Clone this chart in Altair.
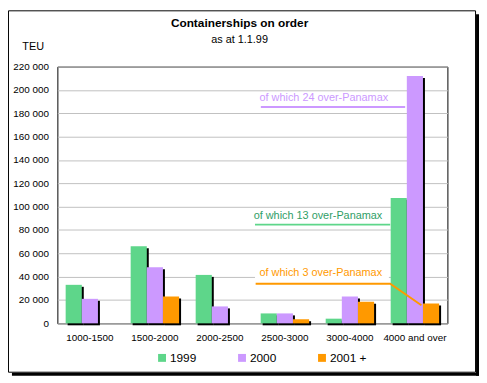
import altair as alt
import pandas as pd

# ---- data ----
categories = ['1000-1500', '1500-2000', '2000-2500', '2500-3000', '3000-4000', '4000 and over']
years = ['1999', '2000', '2001 +']
v1999 = [33000, 66000, 41500, 8500, 4000, 107500]
v2000 = [21000, 48000, 14500, 8500, 23000, 212000]
v2001 = [0, 23000, 0, 3500, 18500, 17000]
colors = ['#5ed68a', '#cc99ff', '#ff9900']
y_ticks = [0, 20000, 40000, 60000, 80000, 100000, 120000, 140000, 160000, 180000, 200000, 220000]

# annotations (x in category units 0..6, y in TEU)
ann_text = ['of which 24 over-Panamax', 'of which 13 over-Panamax', 'of which 3 over-Panamax']
ann_text_color = ['#cc99ff', '#2f9e66', '#ff9900']
ann_text_x = [3.11, 3.02, 3.11]
ann_text_y = [190400, 89700, 40600]

line_id = ['p', 'p', 'g', 'g', 'o', 'o', 'o']
line_order = [0, 1, 0, 1, 0, 1, 2]
line_x = [3.13, 5.35, 3.04, 5.12, 3.05, 5.12, 5.6]
line_y = [185300, 185300, 84600, 84600, 33900, 33900, 15500]
line_color = ['#cc99ff', '#cc99ff', '#5ed68a', '#5ed68a', '#ff9900', '#ff9900', '#ff9900']

box_x = [3.04]
box_x2 = [5.10]
box_y = [37200]
box_y2 = [49800]

FONT = 'Liberation Sans'

rows = []
for i, c in enumerate(categories):
    for yr, vals in zip(years, [v1999, v2000, v2001]):
        rows.append({'cat': c, 'year': yr, 'teu': vals[i]})
df = pd.DataFrame(rows)

xscale = alt.Scale(paddingInner=0.255, paddingOuter=0.1275)
yscale = alt.Scale(domain=[0, 220000], nice=False)
xaxis = alt.Axis(title=None, labelAngle=0, labelPadding=9, grid=False, bandPosition=0.5)
yaxis = alt.Axis(values=y_ticks, title='TEU', titleAngle=0,
                 titleX=-25, titleY=-17, titleAlign='center', titleBaseline='alphabetic',
                 titleFontWeight='normal', titleFontSize=11, titleFont=FONT,
                 labelPadding=9, labelOverlap=False,
                 labelExpr="replace(format(datum.value, ','), ',', ' ')")

base = alt.Chart(df).transform_filter('datum.teu > 0')

shadow = base.mark_bar(color='black', yOffset=2).encode(
    x=alt.X('cat:N', sort=categories, scale=xscale, axis=xaxis),
    xOffset=alt.XOffset('year:N', sort=years, scale=alt.Scale(range=[2, 51.04])),
    y=alt.Y('teu:Q', scale=yscale, axis=yaxis),
)

bars = base.mark_bar().encode(
    x=alt.X('cat:N', sort=categories, scale=xscale, axis=xaxis),
    xOffset=alt.XOffset('year:N', sort=years),
    y=alt.Y('teu:Q', scale=yscale, axis=yaxis),
    color=alt.Color('year:N', sort=years, scale=alt.Scale(domain=years, range=colors),
                    legend=alt.Legend(title=None, orient='none', legendX=100, legendY=289,
                                      direction='horizontal', symbolType='square', symbolSize=64,
                                      symbolStrokeWidth=0, labelFontSize=12, labelFont=FONT,
                                      labelOffset=2, columnPadding=40, labelColor='black')),
)

barlayer = alt.layer(shadow, bars).resolve_scale(xOffset='independent')

qx = alt.Scale(domain=[0, 6], nice=False, zero=False)

box = alt.Chart(pd.DataFrame({'x': box_x, 'x2': box_x2, 'y': box_y, 'y2': box_y2})).mark_rect(
    color='white').encode(
    x=alt.X('x:Q', scale=qx, axis=None), x2='x2:Q',
    y=alt.Y('y:Q', scale=yscale, axis=yaxis), y2='y2:Q')

lines = alt.Chart(pd.DataFrame({'id': line_id, 'o': line_order, 'x': line_x, 'y': line_y,
                                'c': line_color})).mark_line(strokeWidth=2).encode(
    x=alt.X('x:Q', scale=qx, axis=None),
    y=alt.Y('y:Q', scale=yscale, axis=yaxis),
    detail='id:N', order='o:Q',
    color=alt.Color('c:N', scale=None))

texts = alt.Chart(pd.DataFrame({'t': ann_text, 'x': ann_text_x, 'y': ann_text_y,
                                'c': ann_text_color})).mark_text(
    align='left', baseline='alphabetic', fontSize=11, font=FONT).encode(
    x=alt.X('x:Q', scale=qx, axis=None),
    y=alt.Y('y:Q', scale=yscale, axis=yaxis),
    text='t:N',
    color=alt.Color('c:N', scale=None))

one = pd.DataFrame({'a': [0]})
frame = alt.Chart(one).mark_rect(fillOpacity=0, stroke='black', strokeWidth=1).encode(
    x=alt.value(-49.5), x2=alt.value(423.5), y=alt.value(-56.5), y2=alt.value(309.5))
shadow_r = alt.Chart(one).mark_rule(color='black', strokeWidth=3).encode(
    x=alt.value(425.5), y=alt.value(-53), y2=alt.value(313))
shadow_b = alt.Chart(one).mark_rule(color='black', strokeWidth=3).encode(
    x=alt.value(-46), x2=alt.value(427), y=alt.value(311.5))

chart = alt.layer(shadow_r, shadow_b, frame, barlayer, box, lines, texts).resolve_scale(
    x='independent', color='independent'
).properties(
    width=395, height=260,
    autosize=alt.AutoSizeParams(type='none'),
    padding={'left': 50, 'top': 57, 'right': 32, 'bottom': 53},
    background='white',
    title=alt.TitleParams(text='Containerships on order', subtitle='as at 1.1.99',
                          font=FONT, fontSize=12, fontWeight='bold', color='black',
                          subtitleFont=FONT, subtitleFontSize=11, subtitleColor='black',
                          subtitlePadding=4, anchor='middle', dx=-13, dy=44, offset=8),
).configure_view(stroke='black', strokeWidth=1).configure_axis(
    labelFont=FONT, labelFontSize=10, labelColor='black', gridColor='#c0c0c0',
    domain=False, ticks=False)

chart.save('out.html', embed_options={'renderer': 'svg', 'actions': False})
